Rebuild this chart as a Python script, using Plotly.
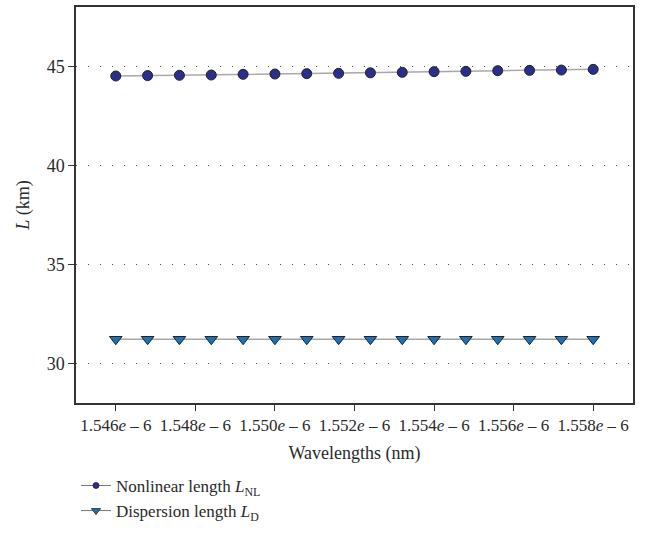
import plotly.graph_objects as go

wavelengths = [1.5460e-6, 1.5468e-6, 1.5476e-6, 1.5484e-6, 1.5492e-6, 1.5500e-6, 1.5508e-6, 1.5516e-6,
               1.5524e-6, 1.5532e-6, 1.5540e-6, 1.5548e-6, 1.5556e-6, 1.5564e-6, 1.5572e-6, 1.5580e-6]
nonlinear_len = [44.515, 44.535, 44.55, 44.565, 44.60, 44.615, 44.635, 44.65,
                 44.675, 44.70, 44.735, 44.75, 44.785, 44.80, 44.815, 44.85]
dispersion_len = [31.22] * 16

xtick_vals = [1.546e-6, 1.548e-6, 1.550e-6, 1.552e-6, 1.554e-6, 1.556e-6, 1.558e-6]
xtick_text = ["1.546<i>e</i> – 6", "1.548<i>e</i> – 6", "1.550<i>e</i> – 6", "1.552<i>e</i> – 6",
              "1.554<i>e</i> – 6", "1.556<i>e</i> – 6", "1.558<i>e</i> – 6"]
ytick_vals = [30, 35, 40, 45]

font = "Liberation Serif, Times New Roman, serif"
txt = "#2a2a2a"
line_col = "#a8a8a8"
nl_col = "#2b2e8c"
d_col = "#1b72b8"

fig = go.Figure()
fig.add_trace(go.Scatter(
    x=wavelengths, y=nonlinear_len, mode="lines+markers", showlegend=False,
    line=dict(color=line_col, width=1.5),
    marker=dict(symbol="circle", size=10, color=nl_col, line=dict(color="#222", width=1)),
))
fig.add_trace(go.Scatter(
    x=wavelengths, y=dispersion_len, mode="lines+markers", showlegend=False,
    line=dict(color=line_col, width=1.5),
    marker=dict(symbol="triangle-down", size=11, color=d_col, line=dict(color="#222", width=1)),
))
# legend entries (smaller symbols as in the reference)
fig.add_trace(go.Scatter(
    x=[None], y=[None], mode="lines+markers",
    name="Nonlinear length <i>L</i><sub>NL</sub>",
    line=dict(color="#777", width=1),
    marker=dict(symbol="circle", size=6, color=nl_col, line=dict(color="#222", width=0.8)),
))
fig.add_trace(go.Scatter(
    x=[None], y=[None], mode="lines+markers",
    name="Dispersion length <i>L</i><sub>D</sub>",
    line=dict(color="#777", width=1),
    marker=dict(symbol="triangle-down", size=8, color=d_col, line=dict(color="#222", width=0.8)),
))

fig.update_layout(
    width=646, height=534,
    margin=dict(l=76, r=13, t=5, b=130),
    paper_bgcolor="white", plot_bgcolor="white",
    font=dict(family=font, size=17, color=txt),
    showlegend=True,
    legend=dict(x=0, xanchor="left", y=-0.318, yanchor="bottom",
                font=dict(size=17, family=font, color=txt),
                bgcolor="rgba(0,0,0,0)", tracegroupgap=0, itemwidth=30),
    xaxis=dict(
        range=[1.545e-6, 1.559e-6], tickvals=xtick_vals, ticktext=xtick_text,
        showgrid=False, zeroline=False,
        showline=True, linecolor="#333", linewidth=1.5, mirror=True,
        ticks="outside", ticklen=6, tickcolor="#333",
        title=dict(text="Wavelengths (nm)", standoff=12, font=dict(size=18, family=font, color=txt)),
        tickfont=dict(size=17, family=font, color=txt),
    ),
    yaxis=dict(
        range=[28, 48], tickvals=ytick_vals,
        showgrid=True, gridcolor="#555", griddash="1px,11px", gridwidth=1,
        zeroline=False,
        showline=True, linecolor="#333", linewidth=1.5, mirror=True,
        ticks="outside", ticklen=6, tickcolor="#333",
        title=dict(text="<i>L</i> (km)", standoff=12, font=dict(size=18, family=font, color=txt)),
        tickfont=dict(size=18, family=font, color=txt),
    ),
)

fig.write_html("out.html")
